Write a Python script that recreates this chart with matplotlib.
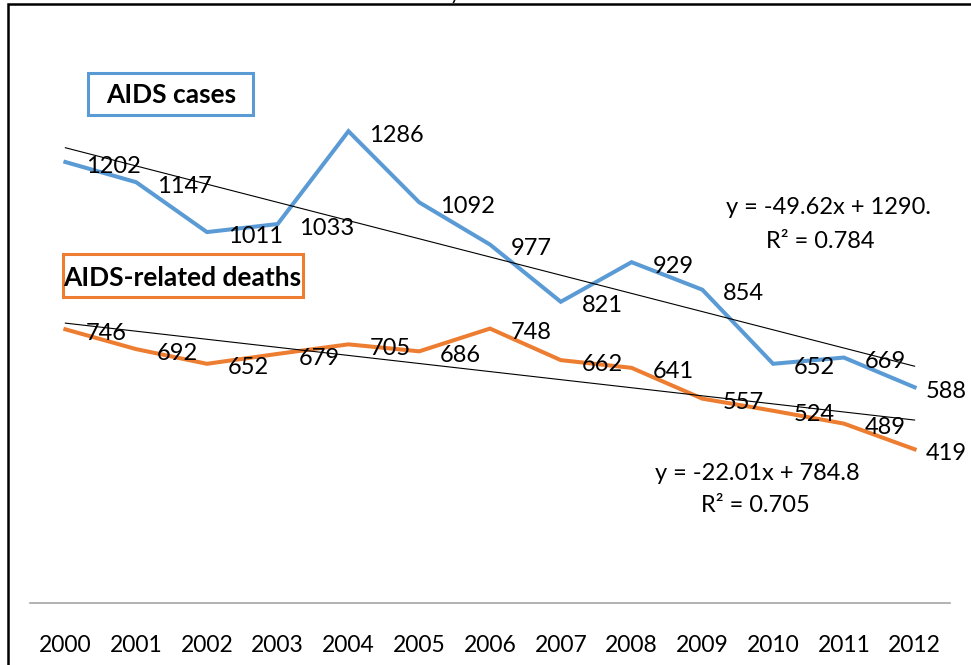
import numpy as np
import matplotlib.pyplot as plt
from matplotlib.patches import Rectangle

plt.rcParams['font.family'] = ['Lato', 'DejaVu Sans']

years = ['2000', '2001', '2002', '2003', '2004', '2005', '2006',
         '2007', '2008', '2009', '2010', '2011', '2012']
aids_cases = [1202, 1147, 1011, 1033, 1286, 1092, 977, 821, 929, 854, 652, 669, 588]
aids_deaths = [746, 692, 652, 679, 705, 686, 748, 662, 641, 557, 524, 489, 419]

blue = '#5B9BD5'
orange = '#ED7D31'

W, H = 971, 665
fig = plt.figure(figsize=(W / 100, H / 100), dpi=100)

# plot area in pixel terms: x 30..950, y=0 at 603 px from top
ax = fig.add_axes([30 / W, (H - 603) / H, 920 / W, 587 / H])
x = np.arange(len(years))
ax.set_xlim(-0.5, len(years) - 0.5)
ax.set_ylim(0, 1600)

ax.plot(x, aids_cases, color=blue, lw=2.9, solid_joinstyle='miter', zorder=3)
ax.plot(x, aids_deaths, color=orange, lw=2.9, solid_joinstyle='miter', zorder=3)

# linear trendlines (Excel uses x = 1..n)
xn = x + 1
for vals in (aids_cases, aids_deaths):
    k, b = np.polyfit(xn, vals, 1)
    ax.plot(x, k * xn + b, color='black', lw=0.8, zorder=4)

# data labels to the right of points
for vals in (aids_cases, aids_deaths):
    for i, v in enumerate(vals):
        dx = 8 if i == len(vals) - 1 else 15
        ax.annotate(str(v), (x[i], v), xytext=(dx, -3), textcoords='offset points',
                    ha='left', va='center', fontsize=17, color='black',
                    annotation_clip=False, zorder=5)

# trendline equations
ax.text(828 / W, 1 - 208 / H, 'y = -49.62x + 1290.', transform=fig.transFigure,
        ha='center', va='center', fontsize=17)
ax.text(820 / W, 1 - 241 / H, 'R² = 0.784', transform=fig.transFigure,
        ha='center', va='center', fontsize=17)
ax.text(757 / W, 1 - 474 / H, 'y = -22.01x + 784.8', transform=fig.transFigure,
        ha='center', va='center', fontsize=17)
ax.text(755 / W, 1 - 505 / H, 'R² = 0.705', transform=fig.transFigure,
        ha='center', va='center', fontsize=17)

# series name boxes
fig.patches.append(Rectangle((88 / W, 1 - 115 / H), 165 / W, 42 / H,
                             transform=fig.transFigure, fill=False,
                             edgecolor=blue, lw=2.2))
fig.text(171 / W, 1 - 95 / H, 'AIDS cases', ha='center', va='center',
         fontsize=19, fontweight='bold')
fig.patches.append(Rectangle((63 / W, 1 - 297 / H), 240 / W, 43 / H,
                             transform=fig.transFigure, fill=False,
                             edgecolor=orange, lw=2.2))
fig.text(182 / W, 1 - 278 / H, 'AIDS-related deaths', ha='center', va='center',
         fontsize=19, fontweight='bold')

# axes styling: only the category axis line
for s in ('top', 'right', 'left'):
    ax.spines[s].set_visible(False)
ax.spines['bottom'].set_color('#A6A6A6')
ax.spines['bottom'].set_linewidth(1.2)
ax.set_yticks([])
ax.set_xticks(x)
ax.set_xticklabels(years, fontsize=16.5)
ax.tick_params(axis='x', length=0, pad=23)

# chart border (cut off at right and bottom)
fig.patches.append(Rectangle((8 / W, -0.05), 1.1, 1.05 - 4 / H,
                             transform=fig.transFigure, fill=False,
                             edgecolor='black', lw=1.8))
# cut-off title descender
fig.text(455 / W, 1.0, 'y', ha='center', va='baseline', fontsize=14)

fig.savefig('out.png', dpi=100)
